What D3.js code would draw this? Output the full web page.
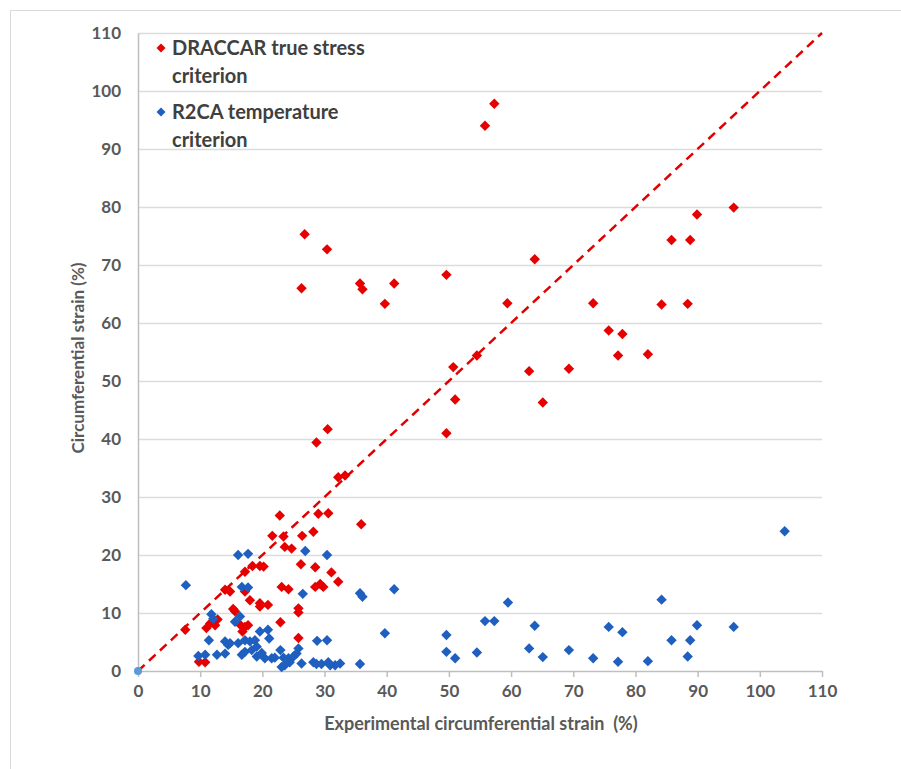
<!DOCTYPE html>
<html>
<head>
<meta charset="utf-8">
<script src="https://cdn.jsdelivr.net/npm/d3@7"></script>
<style>
  html, body { margin: 0; padding: 0; background: #ffffff; }
  svg { display: block; }
  text { font-family: Lato, "Open Sans", "DejaVu Sans", sans-serif; font-weight: bold; white-space: pre; }
</style>
</head>
<body>
<svg id="chart" width="901" height="769"></svg>
<script>
// Experimental circumferential strain (%) vs predicted circumferential strain (%)
const draccarPoints = [
  [7.6, 7.1], [9.8, 1.6], [10.8, 1.5], [11.0, 7.4], [11.6, 8.2], [12.4, 7.9], [12.8, 8.9],
  [14.0, 14.0], [14.8, 13.7], [15.3, 10.7], [15.6, 10.3], [17.2, 17.1], [18.4, 18.1],
  [19.6, 18.1], [20.2, 18.0], [17.2, 13.7], [18.0, 12.2], [19.6, 11.7], [20.9, 11.4],
  [16.4, 8.0], [17.2, 7.6], [17.7, 7.9], [16.8, 6.8], [19.6, 11.1],
  [21.6, 23.3], [22.8, 26.8], [23.4, 23.2], [23.6, 21.4], [24.7, 21.1],
  [22.9, 8.4], [23.1, 14.5], [24.2, 14.1], [25.8, 10.8], [25.8, 10.1], [25.8, 5.7],
  [26.2, 18.4], [26.4, 23.3], [28.2, 24.0], [28.5, 17.9], [28.5, 14.5], [29.3, 15.0],
  [29.8, 14.5], [29.0, 27.1], [30.6, 27.2], [31.1, 17.0], [32.2, 15.4],
  [28.7, 39.4], [30.5, 41.7], [32.2, 33.4], [33.3, 33.7], [35.9, 25.3],
  [26.3, 66.0], [26.8, 75.3], [30.4, 72.7], [35.7, 66.8], [36.1, 65.8],
  [39.7, 63.3], [41.2, 66.8], [49.6, 68.3], [49.6, 41.0], [50.7, 52.4], [51.0, 46.8],
  [54.5, 54.4], [55.8, 94.0], [57.3, 97.8], [59.4, 63.4], [62.9, 51.7], [63.8, 71.0],
  [65.1, 46.3], [69.3, 52.1], [73.2, 63.4], [75.7, 58.7], [77.2, 54.4], [77.9, 58.1],
  [82.0, 54.6], [84.2, 63.2], [85.8, 74.3], [88.4, 63.3], [88.8, 74.3], [89.9, 78.7],
  [95.8, 79.9]
];

const r2caPoints = [
  [7.7, 14.8], [9.7, 2.6], [10.8, 2.8], [11.4, 5.3], [11.8, 9.8], [12.1, 9.0],
  [12.7, 2.8], [14.0, 3.0], [14.0, 5.1], [14.5, 4.5], [14.8, 4.8],
  [15.6, 8.5], [16.4, 9.4], [16.1, 4.8], [17.2, 5.3], [18.0, 5.1],
  [16.1, 20.0], [17.7, 20.2], [16.7, 14.5], [17.7, 14.4],
  [16.7, 2.8], [17.2, 3.3], [18.3, 3.6], [18.8, 5.3], [19.1, 4.2], [19.1, 2.5],
  [19.9, 3.1], [20.4, 2.2], [19.6, 6.8], [20.9, 7.1], [21.1, 5.6], [21.5, 2.2],
  [22.0, 2.3], [22.9, 3.6], [23.4, 2.3], [24.2, 2.2], [25.0, 2.5], [25.5, 3.0],
  [25.8, 3.9], [24.4, 1.5], [23.6, 1.0], [23.1, 0.7], [26.3, 1.3],
  [26.5, 13.3], [26.9, 20.7], [28.8, 5.2], [30.4, 5.3], [30.4, 20.0],
  [28.2, 1.5], [28.7, 1.2], [29.5, 1.2], [30.6, 1.5], [30.9, 1.0], [31.7, 1.0], [32.5, 1.3],
  [35.7, 13.4], [36.1, 12.8], [35.7, 1.2], [39.7, 6.5], [41.2, 14.1],
  [49.6, 6.2], [49.6, 3.3], [51.0, 2.2], [54.5, 3.2], [55.8, 8.6], [57.3, 8.6],
  [59.5, 11.8], [62.9, 3.9], [63.8, 7.8], [65.1, 2.4], [69.3, 3.6], [73.2, 2.2],
  [75.7, 7.6], [77.2, 1.6], [77.9, 6.7], [82.0, 1.7], [84.2, 12.3], [85.8, 5.3],
  [88.4, 2.5], [88.8, 5.3], [89.9, 7.9], [95.8, 7.6], [104.0, 24.1]
];

// y = x reference line and its origin marker
const identityLine = [[0, 0], [110, 110]];
const originPoint = [[0, 0]];

const xTicks = [0, 10, 20, 30, 40, 50, 60, 70, 80, 90, 100, 110];
const yTicks = [0, 10, 20, 30, 40, 50, 60, 70, 80, 90, 100, 110];

const legendItems = [
  { lines: ["DRACCAR true stress", "criterion"], color: "#e60000" },
  { lines: ["R2CA temperature", "criterion"], color: "#1f5fbf" }
];

const xTitle = "Experimental circumferential strain  (%)";
const yTitle = "Circumferential strain (%)";

const svg = d3.select("#chart");

// outer chart frame
svg.append("rect")
  .attr("x", 10.5).attr("y", 10.5)
  .attr("width", 905).attr("height", 775)
  .attr("fill", "none").attr("stroke", "#d9d9d9").attr("stroke-width", 1);

const x = d3.scaleLinear().domain([0, 110]).range([138, 822]);
const y = d3.scaleLinear().domain([0, 110]).range([671, 33]);

// horizontal gridlines
svg.append("g").selectAll("line")
  .data(yTicks.filter(d => d > 0))
  .join("line")
  .attr("x1", x(0)).attr("x2", x(110))
  .attr("y1", d => Math.round(y(d)) + 0.5).attr("y2", d => Math.round(y(d)) + 0.5)
  .attr("stroke", "#dcdcdc").attr("stroke-width", 1.5);

// y axis: line and labels
const yAxis = svg.append("g")
  .attr("transform", `translate(${x(0)},0)`)
  .call(d3.axisLeft(y).tickValues(yTicks).tickSize(0).tickPadding(17));
yAxis.select(".domain").attr("stroke", "#bfbfbf").attr("stroke-width", 1.5);
yAxis.selectAll("text").attr("fill", "#595959").style("font-size", "17px");

// x axis: line, ticks and labels
const xAxis = svg.append("g")
  .attr("transform", `translate(0,${y(0)})`)
  .call(d3.axisBottom(x).tickValues(xTicks).tickSize(6).tickPadding(8).tickSizeOuter(0));
xAxis.select(".domain").attr("stroke", "#bfbfbf").attr("stroke-width", 1.5);
xAxis.selectAll(".tick line").attr("stroke", "#bfbfbf").attr("stroke-width", 1.5);
xAxis.selectAll("text").attr("fill", "#595959").style("font-size", "17px");

// y = x dashed line
svg.append("path")
  .datum(identityLine)
  .attr("d", d3.line().x(d => x(d[0])).y(d => y(d[1])))
  .attr("fill", "none")
  .attr("stroke", "#e00000")
  .attr("stroke-width", 2.5)
  .attr("stroke-dasharray", "9,6");

const diamond = r => `M0,${-r}L${r},0L0,${r}L${-r},0Z`;

// DRACCAR points
svg.append("g").selectAll("path")
  .data(draccarPoints)
  .join("path")
  .attr("transform", d => `translate(${x(d[0])},${y(d[1])})`)
  .attr("d", diamond(5.2))
  .attr("fill", "#e60000");

// R2CA points
svg.append("g").selectAll("path")
  .data(r2caPoints)
  .join("path")
  .attr("transform", d => `translate(${x(d[0])},${y(d[1])})`)
  .attr("d", diamond(5.2))
  .attr("fill", "#1f5fbf");

// origin marker
svg.append("g").selectAll("circle")
  .data(originPoint)
  .join("circle")
  .attr("cx", d => x(d[0])).attr("cy", d => y(d[1]))
  .attr("r", 4)
  .attr("fill", "#5b9bd5");

// legend
const legend = svg.append("g");
legendItems.forEach((item, i) => {
  const top = 48 + i * 64;
  legend.append("path")
    .attr("transform", `translate(161,${top})`)
    .attr("d", diamond(4.5))
    .attr("fill", item.color);
  item.lines.forEach((ln, j) => {
    legend.append("text")
      .attr("x", 172).attr("y", top + 7 + j * 28)
      .attr("fill", "#404040")
      .style("font-size", "20px")
      .text(ln);
  });
});

// axis titles
svg.append("text")
  .attr("x", 481).attr("y", 730)
  .attr("text-anchor", "middle")
  .attr("fill", "#595959")
  .style("font-size", "18px")
  .text(xTitle);

svg.append("text")
  .attr("transform", "translate(84,358) rotate(-90)")
  .attr("text-anchor", "middle")
  .attr("fill", "#595959")
  .style("font-size", "17px")
  .text(yTitle);
</script>
</body>
</html>
